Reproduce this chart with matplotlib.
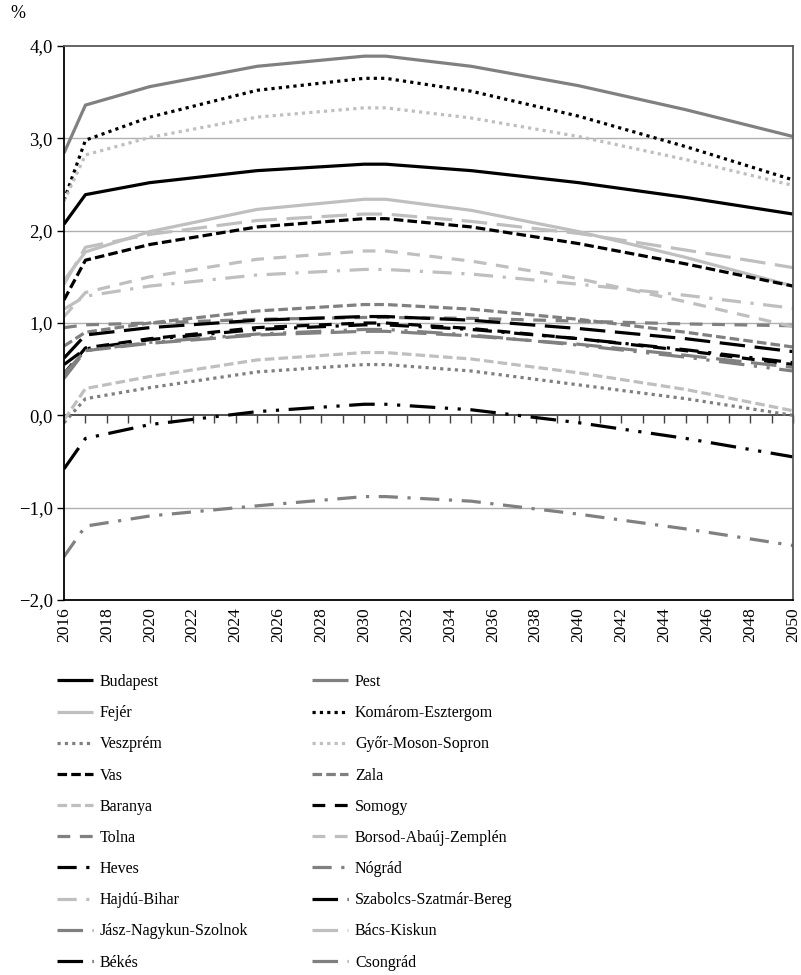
import matplotlib
matplotlib.use("Agg")
import matplotlib.pyplot as plt
from matplotlib.ticker import FuncFormatter

plt.rcParams['font.family'] = ['Liberation Serif', 'DejaVu Serif']

# key years
years = [2016, 2017, 2020, 2025, 2030, 2031, 2035, 2040, 2045, 2050]

budapest = [2.07, 2.39, 2.52, 2.65, 2.72, 2.72, 2.65, 2.52, 2.36, 2.18]
pest = [2.84, 3.36, 3.56, 3.78, 3.89, 3.89, 3.78, 3.57, 3.31, 3.02]
fejer = [1.46, 1.77, 1.99, 2.23, 2.34, 2.34, 2.22, 1.99, 1.71, 1.40]
komarom = [2.33, 2.98, 3.23, 3.52, 3.65, 3.65, 3.51, 3.24, 2.91, 2.55]
veszprem = [-0.08, 0.18, 0.30, 0.47, 0.55, 0.55, 0.48, 0.33, 0.18, 0.00]
gyor = [2.32, 2.82, 3.01, 3.23, 3.33, 3.33, 3.22, 3.02, 2.77, 2.49]
vas = [1.25, 1.68, 1.85, 2.04, 2.13, 2.13, 2.04, 1.86, 1.64, 1.40]
zala = [0.75, 0.90, 1.00, 1.13, 1.20, 1.20, 1.15, 1.04, 0.90, 0.74]
baranya = [-0.05, 0.29, 0.42, 0.60, 0.68, 0.68, 0.61, 0.46, 0.28, 0.05]
somogy = [0.45, 0.73, 0.83, 0.95, 1.00, 1.00, 0.94, 0.83, 0.70, 0.55]
tolna = [0.95, 0.98, 1.00, 1.04, 1.06, 1.06, 1.05, 1.02, 0.99, 0.97]
borsod = [1.07, 1.33, 1.50, 1.69, 1.78, 1.78, 1.67, 1.48, 1.23, 0.96]
heves = [0.55, 0.72, 0.82, 0.93, 0.98, 0.98, 0.93, 0.83, 0.71, 0.57]
nograd = [-1.53, -1.20, -1.09, -0.98, -0.88, -0.88, -0.93, -1.07, -1.23, -1.41]
hajdu = [1.15, 1.29, 1.40, 1.52, 1.58, 1.58, 1.53, 1.42, 1.30, 1.16]
szabolcs = [0.62, 0.87, 0.95, 1.03, 1.07, 1.07, 1.03, 0.94, 0.83, 0.69]
jasz = [0.40, 0.70, 0.78, 0.87, 0.91, 0.91, 0.86, 0.77, 0.65, 0.52]
bacs = [1.42, 1.82, 1.96, 2.11, 2.18, 2.18, 2.10, 1.97, 1.79, 1.60]
bekes = [-0.58, -0.25, -0.10, 0.04, 0.12, 0.12, 0.06, -0.08, -0.25, -0.45]
csongrad = [0.45, 0.70, 0.79, 0.88, 0.93, 0.93, 0.87, 0.76, 0.63, 0.48]

names = ["Budapest", "Pest", "Fejér", "Komárom-Esztergom", "Veszprém",
         "Győr-Moson-Sopron", "Vas", "Zala", "Baranya", "Somogy", "Tolna",
         "Borsod-Abaúj-Zemplén", "Heves", "Nógrád", "Hajdú-Bihar",
         "Szabolcs-Szatmár-Bereg", "Jász-Nagykun-Szolnok", "Bács-Kiskun",
         "Békés", "Csongrád"]
series = [budapest, pest, fejer, komarom, veszprem, gyor, vas, zala, baranya,
          somogy, tolna, borsod, heves, nograd, hajdu, szabolcs, jasz, bacs,
          bekes, csongrad]

BLACK, DARK, LIGHT = "#000000", "#808080", "#bfbfbf"
colors = [BLACK, DARK, LIGHT] * 6 + [BLACK, DARK]

solid = (0, ())
dot = (0, (1, 1.3))
sdash = (0, (3, 1.3))
mdash = (0, (4, 3))
dashdot = (0, (6, 3, 1, 3))
ldash = (0, (8, 3))
ldashdotdot = (0, (8, 3, 1, 3, 1, 3))
styles = ([solid] * 3 + [dot] * 3 + [sdash] * 3 + [mdash] * 3 +
          [dashdot] * 3 + [ldash] * 3 + [ldashdotdot] * 2)

fig = plt.figure(figsize=(8.01, 9.75), dpi=100)
ax = fig.add_axes([64 / 801, 1 - 600 / 975, (793 - 64) / 801, (600 - 46) / 975])

lines = []
for name, vals, c, ls in zip(names, series, colors, styles):
    ln, = ax.plot(years, vals, color=c, linestyle=ls, linewidth=2.3,
                  dash_capstyle='butt', label=name)
    lines.append(ln)

ax.set_xlim(2016, 2050)
ax.set_ylim(-2, 4)
ax.set_yticks([-2, -1, 0, 1, 2, 3, 4])
ax.yaxis.set_major_formatter(FuncFormatter(
    lambda v, p: f"{v:.1f}".replace('.', ',').replace('-', '\u2212')))
for yv in [-1, 1, 2, 3]:
    ax.axhline(yv, color="#b0b0b0", linewidth=1, zorder=0)

ax.set_xticks(range(2016, 2051, 2))
ax.tick_params(axis='x', length=0, pad=5, labelsize=12.5, labelrotation=90)
ax.tick_params(axis='y', direction='out', length=5, width=1, labelsize=13.5, pad=3)

for s in ['top', 'right']:
    ax.spines[s].set_color("#595959")
    ax.spines[s].set_linewidth(1.3)
ax.spines['left'].set_linewidth(1.3)
ax.spines['bottom'].set_linewidth(1.3)

# zero axis with yearly tick marks
sec = ax.secondary_xaxis(1 / 3)
sec.set_xticks(range(2016, 2051))
sec.set_xticklabels([])
sec.tick_params(direction='out', length=6, width=1, color="#404040")
for s in sec.spines.values():
    s.set_color("#404040")
    s.set_linewidth(1.3)

fig.text(10 / 801, 1 - 14 / 975, "%", fontsize=13, va='center', ha='left')

left_items = lines[0::2]
right_items = lines[1::2]
common = dict(loc='upper left', frameon=False, fontsize=11.5, handlelength=2.25,
              handletextpad=0.44, labelspacing=0.95, borderpad=0,
              borderaxespad=0)
fig.legend(handles=left_items, labels=[l.get_label() for l in left_items],
           bbox_to_anchor=(57 / 801, 1 - 674 / 975), **common)
fig.legend(handles=right_items, labels=[l.get_label() for l in right_items],
           bbox_to_anchor=(312 / 801, 1 - 674 / 975), **common)

fig.savefig("out.png", dpi=100)
